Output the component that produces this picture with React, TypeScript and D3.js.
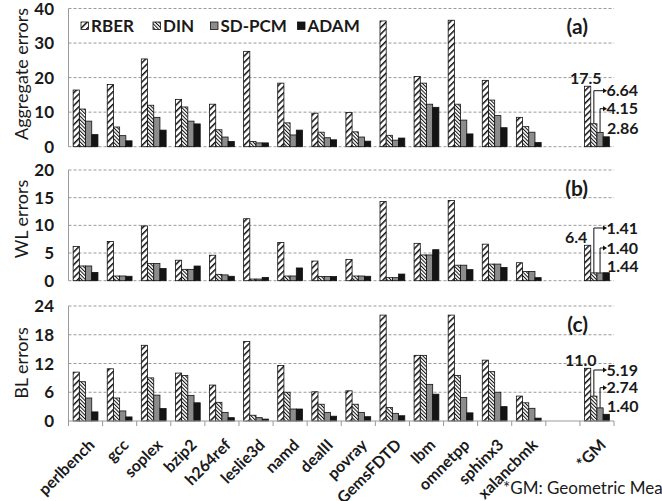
import React from 'react';
import * as d3 from 'd3';

const categories = ['perlbench', 'gcc', 'soplex', 'bzip2', 'h264ref', 'leslie3d', 'namd', 'dealII', 'povray', 'GemsFDTD', 'lbm', 'omnetpp', 'sphinx3', 'xalancbmk', '', '*GM'];
const series = ['RBER', 'DIN', 'SD-PCM', 'ADAM'];

const aggRBER = [16.4, 18.0, 25.4, 13.7, 12.3, 27.6, 18.4, 9.7, 9.9, 36.4, 20.3, 36.6, 19.2, 8.5, null, 17.5];
const aggDIN = [10.9, 5.7, 12.0, 11.5, 4.9, 1.5, 6.9, 4.2, 4.3, 3.3, 18.4, 12.3, 13.5, 5.8, null, 6.64];
const aggSD = [7.4, 3.2, 8.5, 7.4, 2.8, 1.1, 3.4, 2.6, 2.8, 1.9, 12.3, 7.7, 9.0, 4.2, null, 4.15];
const aggADAM = [3.5, 1.7, 4.8, 6.6, 1.5, 1.1, 4.8, 2.0, 1.6, 2.5, 11.4, 3.7, 5.5, 1.2, null, 2.86];

const wlRBER = [6.2, 7.1, 9.9, 3.7, 4.6, 11.2, 6.9, 3.55, 3.85, 14.3, 6.75, 14.5, 6.6, 3.25, null, 6.4];
const wlDIN = [2.66, 0.85, 3.1, 2.05, 1.15, 0.3, 0.85, 0.75, 0.85, 0.55, 4.65, 2.8, 3.0, 1.65, null, 1.41];
const wlSD = [2.66, 0.85, 3.1, 2.05, 1.05, 0.3, 0.85, 0.75, 0.85, 0.55, 4.65, 2.8, 3.0, 1.65, null, 1.40];
const wlADAM = [1.5, 0.8, 2.2, 2.65, 0.8, 0.6, 2.3, 0.75, 0.8, 1.2, 5.6, 2.0, 2.4, 0.55, null, 1.44];

const blRBER = [10.2, 10.9, 15.8, 10.0, 7.5, 16.6, 11.6, 6.1, 6.3, 22.1, 13.7, 22.1, 12.7, 5.2, null, 11.0];
const blDIN = [8.2, 4.8, 9.0, 9.5, 3.9, 1.2, 6.0, 3.5, 3.5, 2.8, 13.7, 9.5, 10.3, 3.8, null, 5.19];
const blSD = [4.8, 2.1, 5.4, 5.35, 1.8, 0.7, 2.5, 1.8, 1.8, 1.6, 7.65, 4.9, 6.0, 2.65, null, 2.74];
const blADAM = [1.9, 0.85, 2.6, 3.8, 0.7, 0.4, 2.5, 1.0, 0.9, 1.1, 5.6, 1.7, 3.0, 0.6, null, 1.40];

const gmLabels = [
  ['17.5', '6.64', '4.15', '2.86'],
  ['6.4', '1.41', '1.40', '1.44'],
  ['11.0', '5.19', '2.74', '1.40'],
];

const FONT = 'Lato, "Open Sans", sans-serif';

const panels = [
  { title: 'Aggregate errors', tag: '(a)', data: [aggRBER, aggDIN, aggSD, aggADAM], max: 40, step: 10, top: 8.5, bottom: 146.7, titleY: 74, rberX: 570, lab: [-56, -38, -18.7] },
  { title: 'WL errors', tag: '(b)', data: [wlRBER, wlDIN, wlSD, wlADAM], max: 20, step: 5, top: 170, bottom: 280.7, titleY: 219, rberX: 565, lab: [-52.7, -32.7, -14] },
  { title: 'BL errors', tag: '(c)', data: [blRBER, blDIN, blSD, blADAM], max: 24, step: 6, top: 306, bottom: 421, titleY: 363, rberX: 565, lab: [-51, -33.3, -15] },
];

const fills = ['url(#rber)', 'url(#din)', '#8c8c8c', '#141414'];

const x = d3.scaleBand<string>().domain(categories.map((c, i) => i + c)).range([68.5, 614]);
const inner = d3.scaleBand<string>().domain(series).range([0, x.bandwidth()]).paddingOuter(0.75);

const Panel = ({ p, pi }: { p: any; pi: number }) => {
  const y = d3.scaleLinear().domain([0, p.max]).range([p.bottom, p.top]);
  const ticks = d3.range(0, p.max + 0.001, p.step);
  const gmKey = x.domain()[15];
  const gx = x(gmKey)!;
  const cx = (s: number) => gx + inner(series[s])! + inner.bandwidth() / 2;
  const vals = p.data.map((arr: (number | null)[]) => arr[15] as number);
  const labels = gmLabels[pi];
  const x0 = x.range()[0];
  const x1 = x.range()[1];
  return (
    <g>
      {ticks.map((t) => (
        <g key={t}>
          {!(pi === 2 && t === 0) && (
            <line x1={x0} x2={x1} y1={y(t)} y2={y(t)} stroke="#9a9a9a" strokeDasharray="3,2" strokeWidth={1} />
          )}
          <text x={54} y={y(t)} dy="0.36em" textAnchor="end" fontFamily={FONT} fontWeight="bold" fontSize={17} fill="#1a1a1a">{t}</text>
        </g>
      ))}
      <line x1={x0} x2={x0} y1={p.top} y2={p.bottom} stroke="#9a9a9a" strokeWidth={1} />
      <text transform={`translate(22,${p.titleY}) rotate(-90)`} textAnchor="middle" dy="0.36em" fontFamily={FONT} fontSize={18} fill="#1a1a1a">{p.title}</text>
      {p.data.map((arr: (number | null)[], s: number) =>
        arr.map((v, i) =>
          v == null ? null : (
            <rect
              key={s + '-' + i}
              x={x(x.domain()[i])! + inner(series[s])!}
              y={y(v)}
              width={inner.bandwidth()}
              height={p.bottom - y(v)}
              fill={fills[s]}
              stroke="#111"
              strokeWidth={0.8}
            />
          )
        )
      )}
      <text x={588} y={p.top + 18} dy="0.36em" textAnchor="end" fontFamily={FONT} fontWeight="bold" fontSize={21} fill="#1a1a1a">{p.tag}</text>
      {/* GM annotations */}
      <text x={p.rberX} y={y(vals[0]) - 8} dy="0.36em" fontFamily={FONT} fontWeight="bold" fontSize={16} fill="#1a1a1a">{labels[0]}</text>
      {[1, 2].map((s) => {
        const ly = p.bottom + p.lab[s - 1];
        return (
          <g key={s}>
            <path d={`M${cx(s)},${y(vals[s])}V${ly}H${603}`} fill="none" stroke="#111" strokeWidth={1} />
            <path d={`M${603},${ly - 2.5}L${607},${ly}L${603},${ly + 2.5}Z`} fill="#111" />
            <text x={606.5} y={ly} dy="0.36em" fontFamily={FONT} fontWeight="bold" fontSize={16} fill="#1a1a1a">{labels[s]}</text>
          </g>
        );
      })}
      <text x={607} y={p.bottom + p.lab[2]} dy="0.36em" fontFamily={FONT} fontWeight="bold" fontSize={16} fill="#1a1a1a">{labels[3]}</text>
    </g>
  );
};

const App = () => {
  const p3 = panels[2];
  const bounds = x.domain().map((d) => x(d)!).concat([x.range()[1]]);
  const legendX = [81, 153, 210.5, 297.5];
  return (
    <svg width={662} height={501} style={{ position: 'absolute', left: 0, top: 0, background: '#fff' }}>
      <defs>
        <pattern id="rber" patternUnits="userSpaceOnUse" width={4.5} height={4.5} patternTransform="rotate(45)">
          <rect width={4.5} height={4.5} fill="#fff" />
          <line x1={0} y1={0} x2={0} y2={4.5} stroke="#111" strokeWidth={3} />
        </pattern>
        <pattern id="din" patternUnits="userSpaceOnUse" width={2.6} height={2.6} patternTransform="rotate(-45)">
          <rect width={2.6} height={2.6} fill="#fff" />
          <line x1={0} y1={0} x2={0} y2={2.6} stroke="#111" strokeWidth={2} />
        </pattern>
      </defs>
      {panels.map((p, i) => (
        <Panel key={i} p={p} pi={i} />
      ))}
      {/* bottom axis */}
      <line x1={x.range()[0]} x2={x.range()[1]} y1={p3.bottom} y2={p3.bottom} stroke="#9a9a9a" strokeWidth={1} />
      {bounds.map((b, i) => (
        <line key={i} x1={b} x2={b} y1={p3.bottom} y2={p3.bottom + 5} stroke="#9a9a9a" strokeWidth={1} />
      ))}
      {categories.map((c, i) =>
        c ? (
          <text
            key={i}
            transform={`translate(${x(x.domain()[i])! + x.bandwidth() / 2 + 10},446) rotate(-45)`}
            textAnchor="end"
            fontFamily={FONT}
            fontWeight="bold"
            fontSize={16}
            fill="#1a1a1a"
          >
            {c}
          </text>
        ) : null
      )}
      {/* legend */}
      {series.map((s, i) => (
        <g key={s}>
          <rect x={legendX[i]} y={22} width={7.5} height={7.5} fill={fills[i]} stroke="#111" strokeWidth={0.8} />
          <text x={legendX[i] + 10} y={26} dy="0.36em" fontFamily={FONT} fontWeight="bold" fontSize={17} fill="#1a1a1a">{s}</text>
        </g>
      ))}
      <text x={503} y={494} fontFamily={FONT} fontSize={17} fill="#1a1a1a">*GM: Geometric Mean</text>
    </svg>
  );
};

export default App;
